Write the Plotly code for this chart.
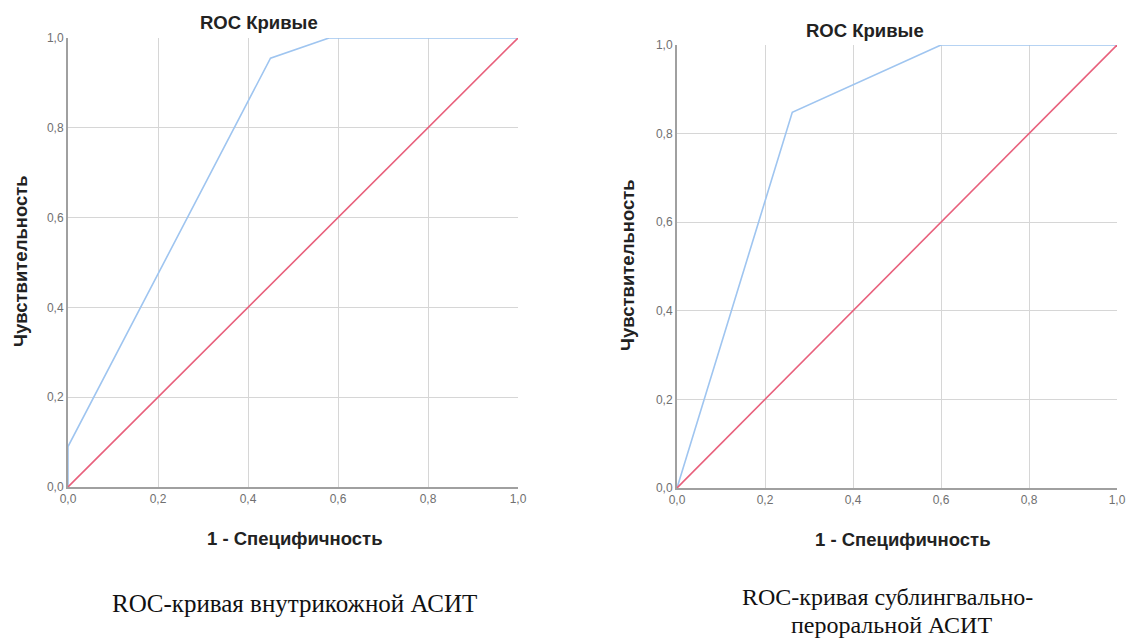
import plotly.graph_objects as go

# Data
fpr_left = [0.0, 0.0, 0.45, 0.58, 1.0]
tpr_left = [0.0, 0.09, 0.955, 1.0, 1.0]
fpr_right = [0.0, 0.262, 0.60, 1.0]
tpr_right = [0.0, 0.848, 1.0, 1.0]
ref_x = [0.0, 1.0]
ref_y = [0.0, 1.0]
tick_vals = [0.0, 0.2, 0.4, 0.6, 0.8, 1.0]
tick_text = ["0,0", "0,2", "0,4", "0,6", "0,8", "1,0"]

chart_title = "ROC Кривые"
x_title = "1 - Специфичность"
y_title = "Чувствительность"
caption_left = "ROC-кривая внутрикожной АСИТ"
caption_right_1 = "ROC-кривая сублингвально-"
caption_right_2 = "пероральной АСИТ"

W, H = 1132, 639
BLUE = "#9fc5f0"
RED = "#e8607c"

fig = go.Figure()
fig.add_trace(go.Scatter(x=fpr_left, y=tpr_left, mode="lines", line=dict(color=BLUE, width=1.6),
                         xaxis="x", yaxis="y", showlegend=False))
fig.add_trace(go.Scatter(x=ref_x, y=ref_y, mode="lines", line=dict(color=RED, width=1.6),
                         xaxis="x", yaxis="y", showlegend=False))
fig.add_trace(go.Scatter(x=fpr_right, y=tpr_right, mode="lines", line=dict(color=BLUE, width=1.6),
                         xaxis="x2", yaxis="y2", showlegend=False))
fig.add_trace(go.Scatter(x=ref_x, y=ref_y, mode="lines", line=dict(color=RED, width=1.6),
                         xaxis="x2", yaxis="y2", showlegend=False))

def px_x(p):
    return p / W

def px_y(p):
    return 1 - p / H

axis_common = dict(
    range=[0, 1], tickvals=tick_vals, ticktext=tick_text,
    showgrid=True, gridcolor="#d6d6d6", gridwidth=1,
    showline=True, linecolor="#a0a0a0", linewidth=2,
    zeroline=False, ticks="", fixedrange=True, automargin=False,
    tickfont=dict(family="Arial, Liberation Sans", size=12, color="#707070"),
)

fig.update_layout(
    width=W, height=H,
    margin=dict(l=0, r=0, t=0, b=0, pad=0, autoexpand=False),
    paper_bgcolor="white", plot_bgcolor="white",
    xaxis=dict(domain=[px_x(68), px_x(518)], anchor="y", **axis_common),
    yaxis=dict(domain=[px_y(487), px_y(38)], anchor="x", **axis_common),
    xaxis2=dict(domain=[px_x(677), px_x(1117)], anchor="y2", **axis_common),
    yaxis2=dict(domain=[px_y(488), px_y(45)], anchor="x2", **axis_common),
)

bold_font = dict(family="Arial, Liberation Sans", size=18.5, color="#222222", weight="bold")
serif_font = dict(family="Liberation Serif, Times New Roman", size=25, color="#111111")
serif_font_r = dict(family="Liberation Serif, Times New Roman", size=24, color="#111111")

annots = [
    (259, 23, chart_title, bold_font, 0),
    (865, 30, chart_title, bold_font, 0),
    (295, 538, x_title, bold_font, 0),
    (903, 539, x_title, bold_font, 0),
    (20, 261, y_title, bold_font, -90),
    (627, 265, y_title, bold_font, -90),
    (294, 603, caption_left, serif_font, 0),
    (887, 597, caption_right_1, serif_font_r, 0),
    (891, 625, caption_right_2, serif_font_r, 0),
]
for x, y, t, f, ang in annots:
    fig.add_annotation(x=px_x(x), y=px_y(y), xref="paper", yref="paper", text=t,
                       showarrow=False, font=f, textangle=ang, xanchor="center", yanchor="middle")

fig.write_html("out.html", config={"displayModeBar": False},
               post_script="document.body.style.margin='0';document.body.style.overflow='hidden';")
